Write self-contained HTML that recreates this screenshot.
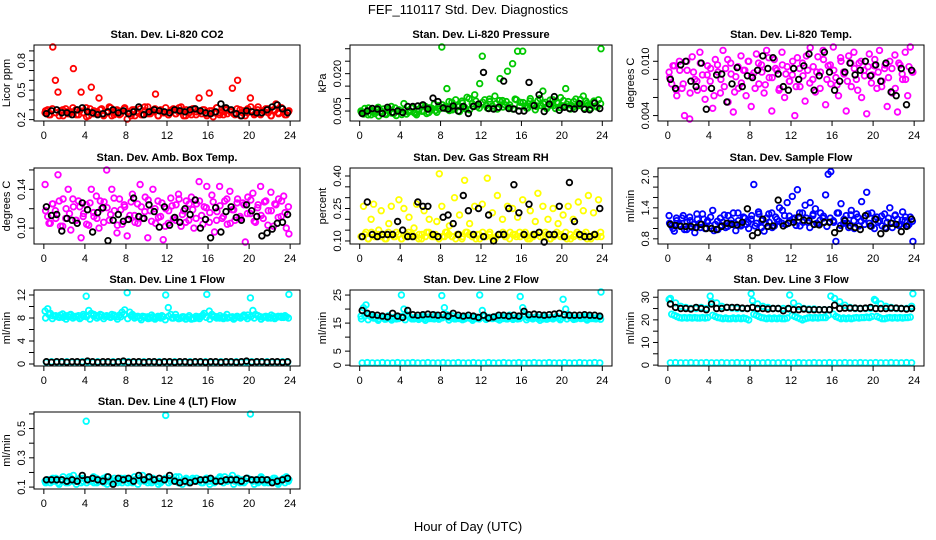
<!DOCTYPE html>
<html><head><meta charset="utf-8"><style>
html,body{margin:0;padding:0;background:#fff;width:936px;height:540px;overflow:hidden}
svg text{font-family:"Liberation Sans",sans-serif}
</style></head><body>
<svg id="chart" width="936" height="540" viewBox="0 0 936 540" xmlns="http://www.w3.org/2000/svg">
<text x="468" y="14" text-anchor="middle" font-size="13">FEF_110117  Std. Dev. Diagnostics</text>
<text x="468" y="531" text-anchor="middle" font-size="13">Hour of Day (UTC)</text>
</svg>
<script>
const xTicks=[0,4,8,12,16,20,24];
const co2Color=[.27,.30,.25,.95,.60,.48,.29,.24,.31,.26,.28,.72,.30,.25,.48,.27,.32,.24,.53,.29,.26,.42,.31,.25,.28,.33,.24,.27,.30,.25,.29,.32,.19,.26,.30,.24,.28,.31,.25,.29,.33,.26,.28,.46,.24,.30,.27,.32,.25,.29,.31,.26,.28,.33,.24,.30,.27,.25,.31,.28,.42,.26,.30,.24,.47,.29,.27,.32,.25,.28,.31,.26,.29,.52,.25,.60,.30,.27,.24,.31,.42,.28,.26,.33,.25,.29,.31,.27,.24,.30,.36,.26,.32,.28,.25,.29];
const co2ColorB=[.29,.25,.31,.27,.24,.30,.28,.26,.32,.25,.29,.27,.23,.31,.26,.28,.30,.24,.27,.32,.25,.29,.26,.31,.28,.24,.30,.27,.25,.33,.26,.29,.31,.24,.28,.27,.25,.30,.26,.32,.29,.24,.27,.31,.25,.28,.30,.26,.29,.23,.32,.27,.25,.30,.28,.26,.31,.24,.29,.27,.33,.25,.30,.26,.28,.31,.24,.29,.27,.32,.25,.28];
const co2Black=[.26,.29,.30,.27,.27,.25,.30,.32,.28,.27,.25,.26,.28,.30,.27,.29,.26,.28,.33,.25,.28,.30,.29,.28,.27,.30,.29,.28,.30,.31,.29,.27,.26,.28,.36,.32,.30,.26,.24,.29,.28,.27,.27,.30,.33,.35,.31,.27];
const presColor=[.0050,.0038,.0045,.0062,.0035,.0048,.0055,.0030,.0042,.0058,.0036,.0050,.0068,.0040,.0032,.0055,.0047,.0080,.0038,.0052,.0062,.0044,.0035,.0057,.0070,.0049,.0040,.0063,.0054,.0078,.0045,.0058,.0310,.0066,.0140,.0052,.0085,.0060,.0072,.0048,.0090,.0065,.0105,.0055,.0080,.0115,.0068,.0160,.0270,.0095,.0062,.0088,.0070,.0110,.0058,.0180,.0092,.0075,.0210,.0065,.0240,.0098,.0290,.0085,.0290,.0070,.0062,.0100,.0080,.0055,.0092,.0072,.0130,.0085,.0068,.0078,.0095,.0060,.0082,.0104,.0070,.0140,.0088,.0075,.0065,.0098,.0080,.0072,.0110,.0090,.0075,.0060,.0085,.0070,.0095,.0300];
const presColorB=[.0045,.0060,.0035,.0052,.0040,.0065,.0048,.0038,.0058,.0042,.0062,.0050,.0036,.0055,.0046,.0064,.0040,.0057,.0049,.0068,.0044,.0060,.0052,.0072,.0075,.0060,.0088,.0055,.0095,.0068,.0082,.0058,.0100,.0070,.0090,.0062,.0085,.0072,.0098,.0060,.0080,.0092,.0066,.0088,.0075,.0058,.0095,.0070,.0084,.0062,.0090,.0076,.0068,.0100,.0080,.0060,.0094,.0072,.0086,.0064,.0092,.0078,.0058,.0088,.0070,.0096,.0062,.0082,.0074,.0090,.0066,.0080];
const presBlack=[.0040,.0050,.0060,.0058,.0040,.0065,.0045,.0050,.0044,.0068,.0068,.0070,.0075,.0058,.0102,.0088,.0062,.0058,.0070,.0050,.0068,.0040,.0068,.0078,.0205,.0060,.0058,.0065,.0170,.0060,.0058,.0050,.0050,.0165,.0072,.0115,.0048,.0078,.0108,.0053,.0065,.0060,.0058,.0080,.0057,.0055,.0082,.0060];
const tempColor=[.0088,.0075,.0095,.0062,.0100,.0070,.0040,.0090,.0036,.0105,.0080,.0068,.0110,.0085,.0058,.0095,.0078,.0048,.0102,.0088,.0065,.0112,.0092,.0055,.0098,.0044,.0083,.0070,.0106,.0090,.0062,.0100,.0050,.0087,.0108,.0075,.0096,.0065,.0112,.0082,.0045,.0102,.0090,.0070,.0110,.0060,.0094,.0078,.0085,.0040,.0104,.0072,.0098,.0056,.0090,.0115,.0080,.0066,.0105,.0088,.0112,.0052,.0095,.0075,.0116,.0082,.0062,.0100,.0088,.0045,.0106,.0072,.0110,.0080,.0098,.0060,.0090,.0042,.0108,.0085,.0095,.0070,.0112,.0078,.0092,.0050,.0100,.0065,.0107,.0044,.0096,.0080,.0110,.0062,.0118,.0088];
const tempColorB=[.0082,.0095,.0068,.0090,.0075,.0100,.0065,.0088,.0078,.0098,.0070,.0085,.0092,.0062,.0096,.0080,.0072,.0102,.0086,.0066,.0094,.0076,.0090,.0100,.0084,.0070,.0098,.0088,.0074,.0104,.0082,.0092,.0068,.0096,.0086,.0078,.0100,.0072,.0092,.0084,.0106,.0076,.0094,.0088,.0070,.0102,.0080,.0096,.0090,.0074,.0104,.0086,.0078,.0098,.0092,.0068,.0100,.0084,.0094,.0076,.0102,.0088,.0072,.0096,.0082,.0092,.0070,.0098,.0086,.0080,.0094,.0088];
const tempBlack=[.0080,.0070,.0096,.0100,.0078,.0072,.0098,.0047,.0070,.0085,.0086,.0055,.0075,.0093,.0072,.0084,.0082,.0090,.0106,.0092,.0104,.0086,.0072,.0068,.0092,.0080,.0095,.0108,.0068,.0084,.0110,.0088,.0068,.0078,.0088,.0098,.0085,.0090,.0100,.0084,.0096,.0078,.0098,.0066,.0062,.0092,.0052,.0090];
const ambColor=[.145,.112,.105,.125,.118,.155,.102,.130,.110,.140,.098,.122,.108,.128,.090,.115,.124,.103,.140,.112,.133,.100,.120,.127,.160,.108,.140,.118,.095,.130,.104,.122,.092,.113,.135,.106,.125,.145,.110,.132,.090,.118,.140,.105,.128,.112,.088,.120,.105,.131,.110,.124,.135,.102,.118,.128,.108,.132,.100,.125,.148,.113,.122,.143,.106,.134,.096,.117,.143,.110,.128,.104,.138,.119,.108,.130,.112,.126,.083,.132,.115,.136,.106,.124,.143,.110,.128,.118,.137,.102,.124,.130,.112,.133,.100,.094];
const ambColorB=[.118,.105,.125,.110,.128,.102,.120,.115,.130,.108,.122,.112,.104,.126,.116,.110,.128,.106,.121,.114,.131,.103,.119,.124,.109,.127,.113,.105,.122,.117,.129,.107,.120,.111,.126,.102,.118,.123,.108,.130,.114,.106,.125,.119,.110,.128,.104,.121,.116,.127,.108,.123,.112,.130,.105,.119,.126,.110,.124,.115,.129,.107,.121,.113,.127,.103,.118,.125,.111,.128,.116,.122];
const ambBlack=[.122,.113,.114,.097,.110,.108,.105,.126,.119,.096,.116,.121,.087,.108,.114,.107,.109,.131,.112,.110,.124,.117,.101,.122,.103,.111,.106,.120,.114,.129,.100,.109,.090,.121,.096,.117,.122,.111,.108,.124,.118,.112,.092,.095,.099,.105,.106,.114];
const rhColor=[.12,.26,.14,.11,.20,.27,.12,.15,.24,.13,.11,.18,.26,.12,.14,.29,.11,.25,.13,.21,.12,.16,.27,.13,.11,.24,.14,.20,.13,.12,.19,.41,.26,.12,.14,.17,.12,.30,.13,.22,.11,.38,.14,.18,.12,.26,.13,.11,.27,.12,.39,.14,.23,.11,.31,.13,.20,.12,.26,.14,.25,.13,.21,.12,.29,.14,.11,.24,.13,.19,.32,.12,.26,.14,.20,.11,.25,.13,.18,.12,.22,.14,.26,.11,.20,.13,.28,.12,.24,.14,.31,.11,.23,.13,.29,.12];
const rhColorB=[.12,.13,.11,.14,.12,.13,.12,.11,.14,.13,.12,.13,.11,.12,.14,.13,.12,.11,.13,.12,.14,.12,.13,.11,.12,.14,.13,.12,.11,.13,.12,.14,.13,.12,.11,.13,.14,.12,.13,.11,.12,.13,.14,.12,.11,.13,.12,.14,.13,.12,.11,.12,.13,.14,.12,.13,.11,.12,.14,.13,.12,.11,.13,.12,.14,.12,.13,.11,.12,.13,.12,.14];
const rhBlack=[.12,.28,.13,.12,.13,.13,.13,.19,.15,.12,.12,.28,.26,.26,.13,.12,.21,.22,.18,.13,.31,.24,.13,.25,.12,.22,.10,.13,.13,.25,.36,.23,.13,.27,.13,.14,.09,.13,.13,.26,.12,.37,.19,.13,.12,.12,.13,.25];
const flowColor=[1.25,1.05,0.95,1.15,1.08,1.20,0.98,1.12,1.22,1.02,0.92,1.18,1.10,1.28,1.00,1.15,1.05,1.35,1.08,0.98,1.20,1.12,1.02,1.25,1.10,1.30,0.96,1.15,1.05,1.22,1.08,1.00,1.18,1.85,1.10,1.28,1.02,0.95,1.20,1.12,1.30,1.05,1.18,1.40,1.10,1.25,1.50,1.15,1.62,1.20,1.75,1.05,1.30,1.45,1.12,1.50,1.25,1.38,1.08,1.30,1.20,1.65,2.05,2.10,1.15,0.75,1.30,1.48,1.10,1.25,1.02,1.35,1.15,1.28,1.05,1.52,1.20,1.70,1.10,1.30,1.00,1.22,1.15,1.05,1.28,1.12,1.40,1.02,1.25,1.18,1.08,1.32,1.15,1.05,1.22,0.75];
const flowColorB=[1.10,1.00,1.20,1.05,1.25,0.98,1.15,1.08,1.28,1.02,1.18,1.12,1.22,0.96,1.14,1.06,1.26,1.04,1.16,1.10,1.30,1.08,1.20,1.12,1.25,1.05,1.32,1.15,1.10,1.28,1.02,1.22,1.14,1.35,1.08,1.24,1.18,1.06,1.30,1.12,1.20,1.02,1.28,1.10,1.16,1.24,1.04,1.20,1.12,1.30,1.06,1.18,1.10,1.26,1.00,1.22,1.14,1.08,1.28,1.04,1.18,1.12,1.24,1.02,1.20,1.10,1.26,1.06,1.16,1.22,1.08,1.14];
const flowBlack=[1.08,1.06,1.04,1.04,1.04,1.02,1.08,1.00,1.00,0.98,1.04,1.10,1.08,1.07,1.12,1.38,0.86,0.92,1.18,1.04,1.05,1.55,1.05,1.10,1.12,1.22,1.16,1.15,1.08,1.07,1.12,1.12,0.92,1.00,1.15,1.05,1.02,0.98,1.25,1.05,1.18,0.90,1.00,1.10,1.08,0.94,1.04,1.18];
const l1Cyan=[9.2,9.6,8.8,8.4,8.3,8.2,8.5,8.1,8.4,8.2,8.6,8.3,8.2,8.4,8.1,8.3,11.8,9.3,8.8,8.6,8.4,8.2,8.5,8.3,8.4,8.2,8.6,8.3,8.2,8.5,9.0,9.4,12.4,9.0,8.6,8.3,8.2,8.0,8.3,8.1,8.2,8.0,8.2,8.1,8.3,8.0,8.2,12.0,9.8,8.6,8.0,8.1,7.9,8.0,8.2,7.9,8.1,7.8,7.9,8.0,8.2,8.3,8.8,12.1,9.2,8.6,8.3,8.2,8.0,8.1,8.2,8.0,8.1,8.2,8.0,8.2,8.1,8.3,8.2,8.5,11.5,9.3,8.6,8.4,8.2,8.1,8.3,8.2,8.0,8.3,8.1,8.2,8.3,8.1,8.2,12.1];
const l1CyanB=[8.0,8.6,7.9,8.4,8.1,8.7,7.8,8.5,8.0,8.3,7.9,8.6,8.2,7.8,8.4,8.0,8.6,7.9,8.3,8.1,8.5,7.8,8.2,8.6,7.9,8.4,8.0,8.3,7.7,8.2,7.9,8.5,7.8,8.1,8.4,7.7,8.3,8.0,8.6,7.9,8.2,7.8,8.4,8.0,8.3,7.9,8.5,8.1,7.8,8.2,8.0,8.4,7.9,8.6,8.1,7.8,8.3,8.0,8.5,7.9,8.2,8.0,8.4,7.8,8.2,8.0,8.5,7.9,8.3,8.1,8.4,8.0];
const l1CyanLow=[0.3,0.4,0.3,0.3,0.4,0.3,0.3,0.4,0.3,0.3,0.4,0.3,0.3,0.4,0.3,0.3,0.4,0.3,0.3,0.4,0.3,0.3,0.4,0.3,0.3,0.4,0.3,0.3,0.4,0.3,0.3,0.4,0.3,0.3,0.4,0.3,0.3,0.4,0.3,0.3,0.4,0.3,0.3,0.4,0.3,0.3,0.4,0.3];
const l1Black=[0.4,0.3,0.4,0.4,0.3,0.4,0.4,0.3,0.5,0.4,0.3,0.4,0.4,0.3,0.4,0.5,0.3,0.4,0.4,0.3,0.4,0.4,0.3,0.4,0.4,0.3,0.4,0.4,0.3,0.4,0.4,0.3,0.4,0.4,0.3,0.4,0.4,0.3,0.4,0.5,0.3,0.4,0.4,0.3,0.4,0.4,0.3,0.4];
const l2Cyan=[17.5,20.5,21.5,18.0,17.2,16.8,17.0,16.5,17.2,16.8,16.5,17.0,16.6,17.0,16.5,16.8,25.0,20.0,18.0,17.2,16.8,16.5,17.0,16.6,16.8,16.5,17.0,16.6,16.8,16.5,17.0,16.6,24.8,20.5,18.0,17.0,16.8,16.5,17.0,16.6,16.8,16.5,17.0,16.8,16.5,17.0,16.6,25.0,19.5,17.5,16.8,17.0,16.6,16.8,16.5,17.0,16.6,16.8,16.5,17.0,16.6,16.8,16.5,24.5,20.5,18.0,17.0,16.8,16.5,17.0,16.6,16.8,16.5,17.0,16.6,16.8,16.5,17.0,16.8,16.6,23.5,20.0,18.0,17.0,16.8,16.5,17.0,16.6,16.8,16.5,17.0,16.6,16.8,16.5,17.0,26.5];
const l2CyanB=[16.5,17.5,16.2,17.8,16.8,16.0,17.2,16.4,17.6,16.1,17.0,16.6,17.4,16.2,17.8,16.5,17.0,16.3,17.5,16.0,17.2,16.6,17.8,16.4,16.9,17.3,16.1,17.6,16.5,17.0,16.2,17.4,16.8,16.0,17.2,16.5,17.6,16.3,17.0,16.7,17.4,16.1,17.2,16.5,17.8,16.3,17.0,16.6,17.5,16.2,17.1,16.8,17.3,16.0,17.6,16.4,17.0,16.7,17.4,16.2,17.2,16.5,17.7,16.3,17.0,16.8,17.4,16.1,17.3,16.6,17.0,16.4];
const l2CyanLow=[0.8,0.9,0.8,0.8,0.9,0.8,0.8,0.9,0.8,0.8,0.9,0.8,0.8,0.9,0.8,0.8,0.9,0.8,0.8,0.9,0.8,0.8,0.9,0.8,0.8,0.9,0.8,0.8,0.9,0.8,0.8,0.9,0.8,0.8,0.9,0.8,0.8,0.9,0.8,0.8,0.9,0.8,0.8,0.9,0.8,0.8,0.9,0.8];
const l2Black=[19.5,18.5,18.0,17.8,17.5,17.2,18.5,17.5,17.0,19.5,18.0,17.8,18.0,18.2,18.0,17.8,18.0,17.5,18.5,17.8,17.5,17.8,17.5,17.0,17.8,16.8,17.2,17.8,17.8,17.5,17.8,17.5,19.2,18.0,18.2,18.0,17.8,18.0,18.2,18.5,18.0,17.8,17.8,17.8,18.0,17.8,17.8,17.5];
const l3Cyan=[29.0,22.5,22.0,21.5,21.0,20.8,21.0,20.8,21.0,20.8,21.0,20.8,20.8,21.0,20.8,21.0,30.5,22.0,21.5,21.0,20.8,20.5,20.8,20.5,20.5,20.8,20.5,20.8,20.5,20.8,20.5,20.0,31.5,22.5,22.0,21.5,21.0,20.8,20.5,20.8,20.5,20.8,20.5,20.8,20.5,20.5,20.8,31.0,22.0,21.5,21.0,20.5,20.0,20.5,20.8,21.0,20.8,21.0,20.8,21.0,21.0,21.0,22.0,30.5,22.5,21.5,21.0,20.5,20.8,20.5,20.8,20.5,20.8,21.0,20.8,21.0,21.0,21.2,21.0,21.5,29.0,21.5,21.0,20.5,20.5,20.8,21.0,20.8,21.0,20.8,21.0,20.8,21.0,21.0,21.2,31.5];
const l3CyanMid=[29.5,27.5,26.0,25.5,25.0,25.0,25.5,25.0,28.0,27.5,26.0,25.5,25.2,25.0,25.0,25.0,28.5,27.0,26.0,25.5,25.0,25.0,25.0,24.8,27.5,26.0,25.0,24.8,24.8,24.5,24.5,24.5,29.5,28.0,26.5,25.5,25.0,25.0,25.0,25.0,28.5,27.0,26.0,25.5,25.0,25.0,25.0,26.0];
const l3CyanLow=[1.0,1.1,1.0,1.0,1.1,1.0,1.0,1.1,1.0,1.0,1.1,1.0,1.0,1.1,1.0,1.0,1.1,1.0,1.0,1.1,1.0,1.0,1.1,1.0,1.0,1.1,1.0,1.0,1.1,1.0,1.0,1.1,1.0,1.0,1.1,1.0,1.0,1.1,1.0,1.0,1.1,1.0,1.0,1.1,1.0,1.0,1.1,1.0];
const l3Black=[27,25.5,25,25,24.8,25.5,25,24.5,27,25,25,25.5,25.5,25.5,25.2,25,25.5,25,25,24.8,25,25,24,25,24.5,24.5,24.8,24.5,24.5,24.5,24.5,24.5,26.5,25,25.2,25.2,25.2,25,25.2,25.5,25,25,25,25.2,25.2,25,24.8,25];
const l4Cyan=[.14,.15,.13,.16,.14,.13,.15,.17,.14,.13,.16,.18,.14,.15,.13,.16,.55,.15,.14,.13,.16,.14,.15,.13,.17,.14,.13,.16,.15,.14,.13,.16,.15,.14,.13,.15,.16,.14,.18,.15,.13,.14,.16,.15,.14,.13,.15,.59,.16,.14,.15,.17,.13,.14,.15,.16,.13,.14,.15,.16,.14,.13,.15,.16,.14,.15,.13,.14,.16,.15,.17,.14,.15,.18,.14,.16,.13,.15,.14,.16,.60,.14,.15,.13,.16,.14,.15,.13,.14,.16,.15,.13,.14,.16,.17,.15];
const l4CyanB=[.13,.15,.14,.16,.12,.15,.13,.17,.14,.12,.16,.14,.13,.15,.17,.13,.14,.16,.12,.15,.14,.13,.16,.15,.13,.14,.17,.12,.15,.14,.16,.13,.15,.12,.14,.16,.13,.15,.14,.17,.12,.15,.13,.16,.14,.15,.13,.16,.12,.14,.15,.17,.13,.14,.16,.12,.15,.14,.13,.16,.15,.12,.14,.17,.13,.15,.14,.16,.12,.15,.13,.14];
const l4Black=[.15,.15,.15,.15,.14,.15,.14,.18,.15,.16,.15,.14,.17,.12,.16,.15,.16,.14,.18,.15,.17,.15,.16,.15,.18,.14,.13,.14,.13,.14,.15,.15,.16,.14,.14,.15,.15,.15,.14,.16,.15,.15,.15,.15,.13,.14,.15,.16];

const NS='http://www.w3.org/2000/svg';
const svg=document.getElementById('chart');
function mk(tag,attrs){const e=document.createElementNS(NS,tag);for(const k in attrs)e.setAttribute(k,attrs[k]);return e;}

const cols=[[34,300],[350,612],[658,924]];
const rows=[[45,121],[168,244],[290,366],[412,489]];
const panels=[
 {name:'co2',title:'Stan. Dev. Li-820 CO2',ylab:'Licor ppm',c:0,r:0,y0:0.186,y1:0.96,ticks:[.2,.3,.4,.5,.6,.7,.8,.9],labels:[.2,.5,.8],fmt:v=>v.toFixed(1),series:[[co2Color,'#ff0000'],[co2ColorB,'#ff0000'],[co2Black,'#000']]},
 {name:'pressure',title:'Stan. Dev. Li-820 Pressure',ylab:'kPa',c:1,r:0,y0:0.001,y1:0.0315,ticks:[.005,.010,.015,.020,.025,.030],labels:[.005,.020],fmt:v=>v.toFixed(3),series:[[presColor,'#00c800'],[presColorB,'#00c800'],[presBlack,'#000']]},
 {name:'temp',title:'Stan. Dev. Li-820 Temp.',ylab:'degrees C',c:2,r:0,y0:0.0034,y1:0.0118,ticks:[.004,.006,.008,.010,.012],labels:[.004,.010],fmt:v=>v.toFixed(3),series:[[tempColor,'#ff00ff'],[tempColorB,'#ff00ff'],[tempBlack,'#000']]},
 {name:'amb-temp',title:'Stan. Dev. Amb. Box Temp.',ylab:'degrees C',c:0,r:1,y0:0.0836,y1:0.162,ticks:[.10,.12,.14,.16],labels:[.10,.14],fmt:v=>v.toFixed(2),series:[[ambColor,'#ff00ff'],[ambColorB,'#ff00ff'],[ambBlack,'#000']]},
 {name:'rh',title:'Stan. Dev. Gas Stream RH',ylab:'percent',c:1,r:1,y0:0.086,y1:0.437,ticks:[.10,.15,.20,.25,.30,.35,.40],labels:[.10,.25,.40],fmt:v=>v.toFixed(2),series:[[rhColor,'#ffff00'],[rhColorB,'#ffff00'],[rhBlack,'#000']]},
 {name:'sample-flow',title:'Stan. Dev. Sample Flow',ylab:'ml/min',c:2,r:1,y0:0.70,y1:2.17,ticks:[.8,1.0,1.2,1.4,1.6,1.8,2.0],labels:[.8,1.4,2.0],fmt:v=>v.toFixed(1),series:[[flowColor,'#0000ff'],[flowColorB,'#0000ff'],[flowBlack,'#000']]},
 {name:'line1-flow',title:'Stan. Dev. Line 1 Flow',ylab:'ml/min',c:0,r:2,y0:-0.35,y1:12.87,ticks:[0,2,4,6,8,10,12],labels:[0,4,8,12],fmt:v=>String(v),series:[[l1Cyan,'#00ffff'],[l1CyanB,'#00ffff'],[l1CyanLow,'#00ffff'],[l1Black,'#000']]},
 {name:'line2-flow',title:'Stan. Dev. Line 2 Flow',ylab:'ml/min',c:1,r:2,y0:-0.3,y1:26.8,ticks:[0,5,10,15,20,25],labels:[0,5,15,25],fmt:v=>String(v),series:[[l2Cyan,'#00ffff'],[l2CyanB,'#00ffff'],[l2CyanLow,'#00ffff'],[l2Black,'#000']]},
 {name:'line3-flow',title:'Stan. Dev. Line 3 Flow',ylab:'ml/min',c:2,r:2,y0:-0.4,y1:33.2,ticks:[0,5,10,15,20,25,30],labels:[0,10,20,30],fmt:v=>String(v),series:[[l3Cyan,'#00ffff'],[l3CyanMid,'#00ffff'],[l3CyanLow,'#00ffff'],[l3Black,'#000']]},
 {name:'line4-flow',title:'Stan. Dev. Line 4 (LT) Flow',ylab:'ml/min',c:0,r:3,y0:0.087,y1:0.613,ticks:[.1,.2,.3,.4,.5,.6],labels:[.1,.3,.5],fmt:v=>v.toFixed(1),series:[[l4Cyan,'#00ffff'],[l4CyanB,'#00ffff'],[l4Black,'#000']]}
];

panels.forEach(p=>{
 const [L,R]=cols[p.c],[T,B]=rows[p.r];
 const xs=h=>L+(h+0.96)/25.92*(R-L);
 const ys=v=>B-(v-p.y0)/(p.y1-p.y0)*(B-T);
 const g=mk('g',{});
 
 
 svg.appendChild(g);
 const t=mk('text',{x:(L+R)/2,y:T-7,'text-anchor':'middle','font-size':'11','font-weight':'bold'});
 
 
 t.textContent=p.title;g.appendChild(t);
 const yl=mk('text',{x:0,y:0,'text-anchor':'middle','font-size':'11',transform:`translate(${L-24},${(T+B)/2}) rotate(-90)`});
 
 
 yl.textContent=p.ylab;g.appendChild(yl);
 p.series.forEach(([vals,col],si)=>{
  const step=24/vals.length;
  const sg=mk('g',{fill:'none',stroke:col,'stroke-width':'1.8'});
  
  
  g.appendChild(sg);
  vals.forEach((v,i)=>{
   const cy=Math.max(T+2,Math.min(B-2,ys(v)));
   const c=mk('circle',{cx:xs(i*step+step/2).toFixed(1),cy:cy.toFixed(1),r:'2.8'});
   
   
   sg.appendChild(c);
  });
 });
 const box=mk('rect',{x:L,y:T,width:R-L,height:B-T,fill:'none',stroke:'#000','stroke-width':'1'});
 
 
 g.appendChild(box);
 xTicks.forEach(h=>{
  const x=xs(h);
  g.appendChild(mk('line',{x1:x,x2:x,y1:B,y2:B+5,stroke:'#000'}));
  const tl=mk('text',{x:x,y:B+18,'text-anchor':'middle','font-size':'11'});
  
  
  tl.textContent=h;g.appendChild(tl);
 });
 g.appendChild(mk('line',{x1:xs(0),x2:xs(24),y1:B,y2:B,stroke:'#000'}));
 p.ticks.forEach(v=>{
  const y=ys(v);
  if(y<T-1||y>B+1)return;
  g.appendChild(mk('line',{x1:L-5,x2:L,y1:y,y2:y,stroke:'#000'}));
 });
 p.labels.forEach(v=>{
  const y=ys(v);
  const tl=mk('text',{x:0,y:0,'text-anchor':'middle','font-size':'11',transform:`translate(${L-9},${y}) rotate(-90)`});
  
  
  tl.textContent=p.fmt(v);g.appendChild(tl);
 });
});
</script>
</body></html>
